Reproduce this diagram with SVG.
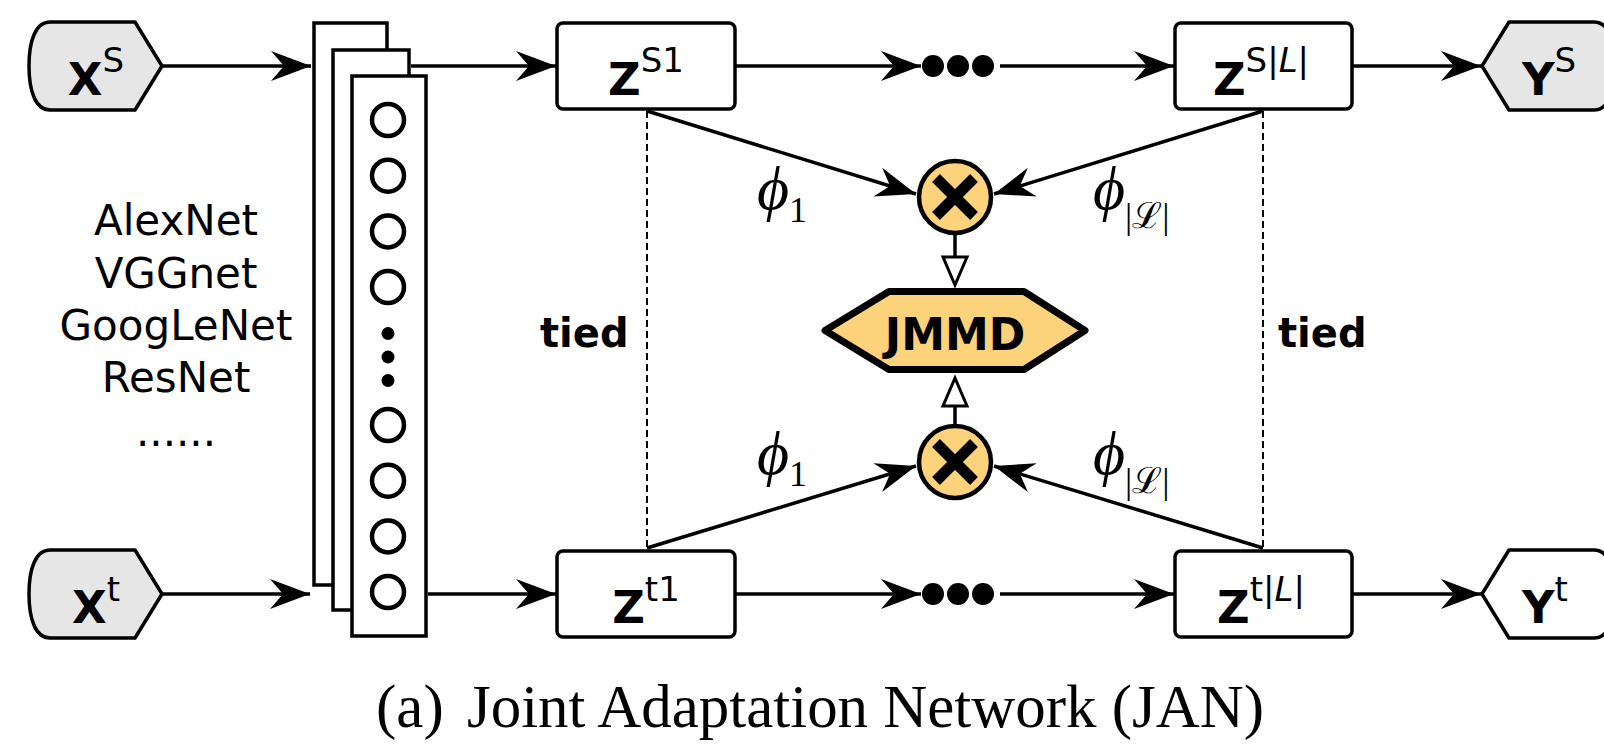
<svg xmlns="http://www.w3.org/2000/svg" width="1604" height="744" viewBox="0 0 1604 744">
  <defs>
    <marker id="stealth" markerUnits="userSpaceOnUse" markerWidth="44" markerHeight="34" refX="0" refY="0" viewBox="-42 -17 44 34" orient="auto">
      <path d="M0,0 L-40,-15 L-27,0 L-40,15 Z" fill="#000"/>
    </marker>
    <style>
      .line { stroke: #000; stroke-width: 3.5; fill: none; }
      .arrow { marker-end: url(#stealth); }
      .tie { stroke: #000; stroke-width: 2; stroke-dasharray: 7 4; fill: none; }
      .io { fill: #E6E6E6; stroke: #000; stroke-width: 3.5; stroke-linejoin: round; }
      .io-out { fill: #fff; stroke: #000; stroke-width: 3.5; stroke-linejoin: round; }
      .box { fill: #fff; stroke: #000; stroke-width: 3.5; }
      .layer { fill: #fff; stroke: #000; stroke-width: 3.5; }
      .unit { fill: #fff; stroke: #000; stroke-width: 4.5; }
      .dot { fill: #000; }
      .prod { fill: #FCD27A; stroke: #000; stroke-width: 4.5; }
      .cross { stroke: #000; stroke-width: 11; fill: none; }
      .hex { fill: #FCD27A; stroke: #000; stroke-width: 7; stroke-linejoin: round; }
      .open { fill: #fff; stroke: #000; stroke-width: 3; stroke-linejoin: miter; }
      .lbl { font-family: "DejaVu Sans", Verdana, sans-serif; fill: #000; }
      .main { font-size: 45px; font-weight: bold; }
      .sup { font-size: 34px; font-weight: normal; }
      .net { font-family: "DejaVu Sans", Verdana, sans-serif; font-size: 42px; fill: #000; text-anchor: middle; }
      .tied { font-family: "DejaVu Sans", Verdana, sans-serif; font-size: 40px; font-weight: bold; fill: #000; }
      .phi { font-family: "Liberation Serif", "DejaVu Serif", serif; font-style: italic; font-size: 62px; fill: #000; }
      .sub { font-family: "Liberation Serif", "DejaVu Serif", serif; font-style: normal; font-size: 36px; fill: #000; }
      .cap { font-family: "Liberation Serif", "Times New Roman", serif; font-size: 61px; fill: #000; }
    </style>
  </defs>

  <!-- connectors -->
  <g id="connectors">
    <line class="line arrow" x1="162" y1="66" x2="311" y2="66"/>
    <line class="line arrow" x1="411" y1="66" x2="556" y2="66"/>
    <line class="line arrow" x1="735" y1="66" x2="921" y2="66"/>
    <line class="line arrow" x1="1000" y1="66" x2="1174" y2="66"/>
    <line class="line arrow" x1="1352" y1="66" x2="1481" y2="66"/>

    <line class="line arrow" x1="162" y1="594" x2="310" y2="594"/>
    <line class="line arrow" x1="428" y1="594" x2="556" y2="594"/>
    <line class="line arrow" x1="735" y1="594" x2="921" y2="594"/>
    <line class="line arrow" x1="1000" y1="594" x2="1174" y2="594"/>
    <line class="line arrow" x1="1352" y1="594" x2="1481" y2="594"/>

    <line class="line arrow" x1="647" y1="111" x2="916" y2="194"/>
    <line class="line arrow" x1="1263" y1="111" x2="994" y2="194"/>
    <line class="line arrow" x1="647" y1="548" x2="916" y2="466"/>
    <line class="line arrow" x1="1263" y1="548" x2="994" y2="466"/>

    <line class="tie" x1="647" y1="111" x2="647" y2="548"/>
    <line class="tie" x1="1263" y1="111" x2="1263" y2="548"/>

    <line class="line" x1="955" y1="235" x2="955" y2="257"/>
    <polygon class="open" points="943,257 967,257 955,285"/>
    <line class="line" x1="955" y1="424" x2="955" y2="406"/>
    <polygon class="open" points="943,406 967,406 955,378"/>
  </g>

  <!-- inputs -->
  <g id="xs">
    <path class="io" d="M50,22 H135 L162,66 L135,110 H50 C35,110 29,90 29,66 C29,42 35,22 50,22 Z"/>
    <text class="lbl" x="96" y="95" text-anchor="middle"><tspan class="main">X</tspan><tspan class="sup" dy="-23">S</tspan></text>
  </g>
  <g id="xt">
    <path class="io" d="M50,550 H135 L162,594 L135,638 H50 C35,638 29,618 29,594 C29,570 35,550 50,550 Z"/>
    <text class="lbl" x="96" y="623" text-anchor="middle"><tspan class="main">X</tspan><tspan class="sup" dy="-22">t</tspan></text>
  </g>

  <!-- backbone candidates -->
  <g id="backbones">
    <text class="net" x="176" y="235">AlexNet</text>
    <text class="net" x="176" y="288">VGGnet</text>
    <text class="net" x="176" y="340">GoogLeNet</text>
    <text class="net" x="176" y="392">ResNet</text>
    <text class="net" x="176" y="446">......</text>
  </g>

  <!-- shared deep network (stacked layers) -->
  <g id="network">
    <rect class="layer" x="314" y="23" width="73" height="562"/>
    <rect class="layer" x="333" y="50" width="76" height="560"/>
    <rect class="layer" x="352" y="76" width="74" height="560"/>
    <circle class="unit" cx="388" cy="120" r="16"/>
    <circle class="unit" cx="388" cy="175.7" r="16"/>
    <circle class="unit" cx="388" cy="231.4" r="16"/>
    <circle class="unit" cx="388" cy="287" r="16"/>
    <circle class="dot" cx="388" cy="333.5" r="6.5"/>
    <circle class="dot" cx="388" cy="357" r="6.5"/>
    <circle class="dot" cx="388" cy="380.5" r="6.5"/>
    <circle class="unit" cx="388" cy="425" r="16"/>
    <circle class="unit" cx="388" cy="480.7" r="16"/>
    <circle class="unit" cx="388" cy="536.4" r="16"/>
    <circle class="unit" cx="388" cy="592" r="16"/>
  </g>

  <!-- source activations -->
  <g id="zs1">
    <rect class="box" x="557" y="23" width="178" height="86" rx="6"/>
    <text class="lbl" x="646" y="95" text-anchor="middle"><tspan class="main">Z</tspan><tspan class="sup" dy="-23">S1</tspan></text>
  </g>
  <g id="dots-s">
    <circle class="dot" cx="933" cy="66" r="11"/>
    <circle class="dot" cx="958" cy="66" r="11"/>
    <circle class="dot" cx="983" cy="66" r="11"/>
  </g>
  <g id="zsL">
    <rect class="box" x="1175" y="23" width="177" height="86" rx="6"/>
    <text class="lbl" x="1261" y="95" text-anchor="middle"><tspan class="main">Z</tspan><tspan class="sup" dy="-23">S|<tspan font-style="italic">L</tspan>|</tspan></text>
  </g>
  <g id="ys">
    <path class="io" d="M1482,66 L1509,22 H1594 C1609,22 1615,42 1615,66 C1615,90 1609,110 1594,110 H1509 Z"/>
    <text class="lbl" x="1522" y="95"><tspan class="main">Y</tspan><tspan class="sup" dy="-23">S</tspan></text>
  </g>

  <!-- target activations -->
  <g id="zt1">
    <rect class="box" x="557" y="551" width="178" height="86" rx="6"/>
    <text class="lbl" x="646" y="623" text-anchor="middle"><tspan class="main">Z</tspan><tspan class="sup" dy="-22">t1</tspan></text>
  </g>
  <g id="dots-t">
    <circle class="dot" cx="933" cy="594" r="11"/>
    <circle class="dot" cx="958" cy="594" r="11"/>
    <circle class="dot" cx="983" cy="594" r="11"/>
  </g>
  <g id="ztL">
    <rect class="box" x="1175" y="551" width="177" height="86" rx="6"/>
    <text class="lbl" x="1261" y="623" text-anchor="middle"><tspan class="main">Z</tspan><tspan class="sup" dy="-22">t|<tspan font-style="italic">L</tspan>|</tspan></text>
  </g>
  <g id="yt">
    <path class="io-out" d="M1482,594 L1509,550 H1594 C1609,550 1615,570 1615,594 C1615,618 1609,638 1594,638 H1509 Z"/>
    <text class="lbl" x="1522" y="623"><tspan class="main">Y</tspan><tspan class="sup" dy="-22">t</tspan></text>
  </g>

  <!-- tensor product nodes -->
  <g id="prod-s">
    <circle class="prod" cx="955" cy="197" r="36"/>
    <path class="cross" d="M936,178 L974,216 M974,178 L936,216"/>
  </g>
  <g id="prod-t">
    <circle class="prod" cx="955" cy="462" r="36"/>
    <path class="cross" d="M936,443 L974,481 M974,443 L936,481"/>
  </g>

  <!-- JMMD criterion -->
  <g id="jmmd">
    <polygon class="hex" points="825,330.5 889,291.5 1024,291.5 1085,330.5 1024,369.5 889,369.5"/>
    <text class="lbl" x="955" y="350" text-anchor="middle" font-size="44" font-weight="bold">JMMD</text>
  </g>

  <!-- tie labels -->
  <g id="tied-left"><text class="tied" x="540" y="347">tied</text></g>
  <g id="tied-right"><text class="tied" x="1278" y="347">tied</text></g>

  <!-- feature map labels -->
  <g id="phi-labels">
    <text class="phi" x="757" y="209">ϕ<tspan class="sub" dy="13">1</tspan></text>
    <text class="phi" x="1093" y="209">ϕ<tspan class="sub" dy="19">|ℒ|</tspan></text>
    <text class="phi" x="757" y="474">ϕ<tspan class="sub" dy="12">1</tspan></text>
    <text class="phi" x="1093" y="474">ϕ<tspan class="sub" dy="19">|ℒ|</tspan></text>
  </g>

  <!-- caption -->
  <g id="caption">
    <text class="cap" x="376" y="727">(a)</text>
    <text class="cap" x="467" y="727" textLength="797" lengthAdjust="spacingAndGlyphs">Joint Adaptation Network (JAN)</text>
  </g>
</svg>
